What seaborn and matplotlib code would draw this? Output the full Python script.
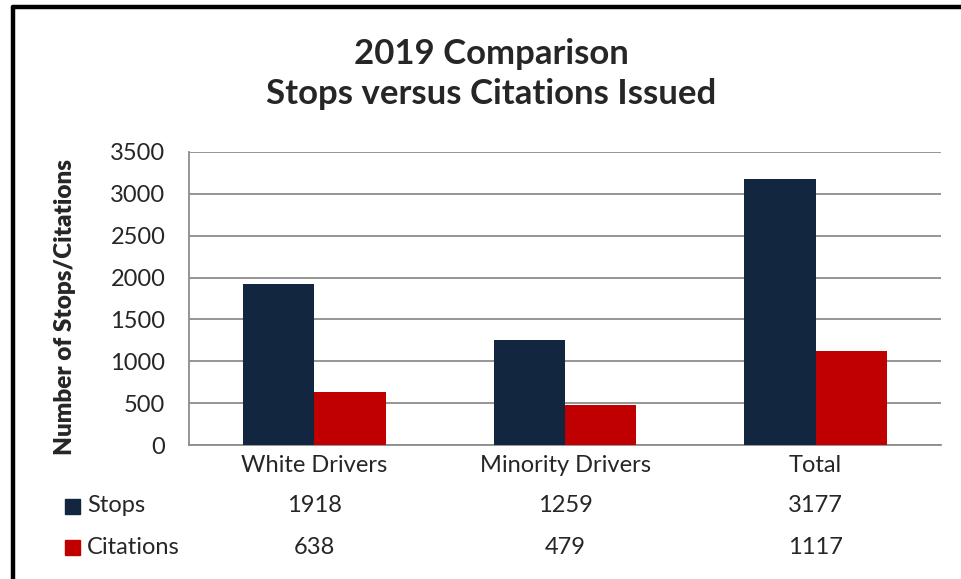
import pandas as pd
import matplotlib.pyplot as plt
import seaborn as sns
from matplotlib.patches import Rectangle
from matplotlib.lines import Line2D
from matplotlib.transforms import blended_transform_factory

# chart values
categories = ['White Drivers', 'Minority Drivers', 'Total']
stops = [1918, 1259, 3177]
citations = [638, 479, 1117]
series = ['Stops', 'Citations']
colors = ['#12263F', '#C00000']

df = pd.DataFrame({
    'category': categories * 2,
    'series': ['Stops'] * 3 + ['Citations'] * 3,
    'value': stops + citations,
})

sns.set_style('white')
plt.rcParams['font.family'] = ['Lato', 'DejaVu Sans']

W, H = 961, 579
fig = plt.figure(figsize=(W / 100, H / 100), dpi=100)
ax = fig.add_axes([189 / W, 1 - 445 / H, 752 / W, 293 / H])

sns.barplot(data=df, x='category', y='value', hue='series', order=categories,
            hue_order=series, palette=colors, width=0.57, gap=0,
            saturation=1, ax=ax, legend=False, zorder=3, linewidth=0)

ax.set_ylim(0, 3500)
ax.set_yticks(range(0, 3501, 500))
ax.yaxis.grid(True, color='#8c8c8c', lw=1.3, zorder=0)
ax.set_axisbelow(True)
for s in ['top', 'right']:
    ax.spines[s].set_visible(False)
for s in ['left', 'bottom']:
    ax.spines[s].set_color('#8c8c8c')
    ax.spines[s].set_linewidth(1.3)
ax.tick_params(axis='y', length=0, pad=17, labelsize=17)
ax.tick_params(axis='x', length=0, pad=7, labelsize=17)
ax.set_xlabel('')
ax.set_ylabel('Number of Stops/Citations', fontsize=17.5, fontweight='heavy')
ax.yaxis.set_label_coords(-0.150, 0.47)

fig.text(491 / W, 1 - 74 / H, '2019 Comparison\nStops versus Citations Issued',
         ha='center', va='center', fontsize=25, fontweight='bold', linespacing=1.3)

# data table under the chart
tr = blended_transform_factory(ax.transData, fig.transFigure)
rows = [stops, citations]
row_y = [1 - 506 / H, 1 - 547 / H]
for vals, name, col, y in zip(rows, series, colors, row_y):
    for i, v in enumerate(vals):
        fig.text(i, y, str(v), transform=tr, ha='center', va='center', fontsize=17)
    fig.patches.append(Rectangle((65 / W, y - 7.5 / H), 15 / W, 15 / H, color=col,
                                 transform=fig.transFigure, figure=fig))
    fig.text(87 / W, y, name, ha='left', va='center', fontsize=17)

# frame lines
fig.add_artist(Line2D([13 / W, 1], [1 - 7 / H, 1 - 7 / H], color='black', lw=3.2))
fig.add_artist(Line2D([13 / W, 13 / W], [0, 1 - 7 / H], color='black', lw=3.2))

fig.savefig('out.png', dpi=100)
